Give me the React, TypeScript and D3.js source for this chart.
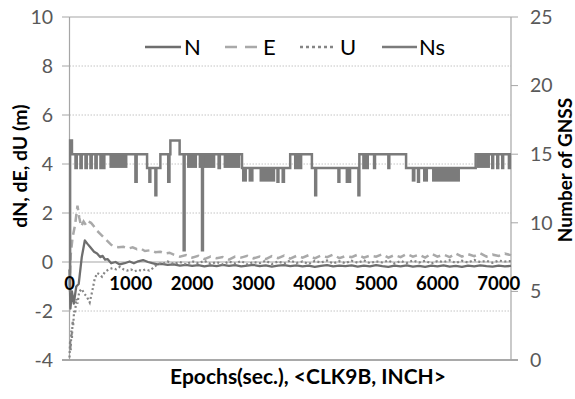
import React from "react";
import * as d3 from "d3";

// ---------- data ----------
const leftTicks = [-4, -2, 0, 2, 4, 6, 8, 10];
const rightTicks = [0, 5, 10, 15, 20, 25];
const xTicks = [0, 1000, 2000, 3000, 4000, 5000, 6000, 7000];
const seriesNames = ["N", "E", "U", "Ns"];

// early (converging) part: [epoch, value]
const nEarly: [number, number][] = [
  [0, -0.3], [15, -1.9], [40, -1.2], [70, -1.7], [110, -1.0], [150, -0.9], [200, 0.2], [250, 0.88],
  [290, 0.75], [340, 0.6], [400, 0.42], [450, 0.35], [500, 0.2], [540, 0.25], [580, 0.1], [620, 0.12],
  [680, -0.05], [750, 0.0], [820, -0.1], [900, -0.05], [980, 0.02], [1050, -0.05], [1120, 0.03],
  [1200, 0.08], [1280, 0.0], [1350, -0.05], [1430, -0.1], [1500, -0.08], [1600, -0.12],
];
const eEarly: [number, number][] = [
  [0, -1.0], [20, 0.3], [50, 1.0], [90, 1.5], [130, 2.3], [160, 1.8], [190, 1.45], [230, 1.65],
  [270, 1.5], [310, 1.65], [350, 1.6], [400, 1.45], [440, 1.3], [500, 1.15], [560, 1.0], [620, 0.85],
  [680, 0.7], [740, 0.62], [800, 0.6], [880, 0.62], [960, 0.55], [1030, 0.6], [1100, 0.52],
  [1160, 0.55], [1230, 0.45], [1320, 0.48], [1400, 0.4], [1480, 0.42], [1560, 0.35], [1630, 0.38],
];
const uEarly: [number, number][] = [
  [0, -3.9], [10, -3.2], [20, -3.6], [30, -2.8], [40, -3.1], [50, -2.4], [60, -2.6], [75, -2.0],
  [90, -2.1], [110, -1.5], [130, -1.7], [160, -1.2], [200, -1.1], [240, -1.3], [280, -1.4],
  [330, -1.65], [370, -1.2], [410, -0.7], [450, -0.45], [490, -0.5], [530, -0.6], [580, -0.4],
  [640, -0.3], [700, -0.25], [760, -0.3], [820, -0.2], [880, -0.3], [940, -0.35], [1000, -0.3],
  [1060, -0.38], [1120, -0.32], [1180, -0.36], [1240, -0.3], [1300, -0.35], [1360, -0.25],
  [1420, -0.12], [1480, -0.05], [1540, -0.05], [1600, 0.02],
];

// steady part, one value every 100 s from 1700 to 7200
const tailStart = 1700;
const tailStep = 100;
const nTail = [
  -0.1, -0.15, -0.12, -0.16, -0.13, -0.18, -0.14, -0.17,
  -0.12, -0.16, -0.13, -0.18, -0.15, -0.12, -0.17, -0.14, -0.19, -0.15,
  -0.13, -0.17, -0.14, -0.18, -0.15, -0.2, -0.16, -0.13, -0.18, -0.15,
  -0.17, -0.14, -0.19, -0.15, -0.18, -0.13, -0.17, -0.2, -0.15, -0.18,
  -0.14, -0.19, -0.16, -0.2, -0.15, -0.18, -0.14, -0.19, -0.16, -0.2,
  -0.15, -0.18, -0.14, -0.17, -0.19, -0.15, -0.18, -0.16,
];
const eTail = [
  0.3, 0.22, 0.28, 0.18, 0.25, 0.12, 0.22, 0.15, 0.2, 0.1,
  0.22, 0.18, 0.25, 0.15, 0.22, 0.12, 0.24, 0.16, 0.26, 0.14,
  0.25, 0.18, 0.28, 0.15, 0.26, 0.2, 0.3, 0.16, 0.24, 0.2,
  0.3, 0.18, 0.26, 0.22, 0.32, 0.18, 0.28, 0.2, 0.33, 0.22,
  0.3, 0.18, 0.34, 0.22, 0.3, 0.2, 0.35, 0.22, 0.32, 0.24,
  0.35, 0.22, 0.3, 0.25, 0.34, 0.28,
];
const uTail = [
  -0.08, 0.0, -0.1, 0.03, -0.05, 0.05, -0.08, 0.0,
  -0.1, 0.02, -0.06, 0.04, -0.1, 0.0, -0.05, 0.05, -0.08, 0.02,
  -0.06, 0.06, -0.04, 0.02, -0.08, 0.04, -0.02, 0.06, -0.06, 0.03,
  -0.05, 0.05, -0.03, 0.07, -0.05, 0.03, -0.02, 0.06, -0.06, 0.04,
  -0.04, 0.06, -0.02, 0.05, -0.06, 0.04, 0.0, 0.07, -0.04, 0.05,
  -0.02, 0.08, 0.0, 0.05, -0.03, 0.06, 0.02, 0.04,
];

// number of satellites: step changes [epoch, count]
const nsSteps: [number, number][] = [
  [0, 5], [10, 16], [40, 15],
  [98, 14], [118, 15], [179, 14], [199, 15], [261, 14], [281, 15], [342, 14], [362, 15],
  [423, 14], [443, 15], [505, 14], [525, 15], [553, 14], [568, 15],
  [1075, 13], [1095, 15], [1265, 14], [1303, 13], [1318, 14], [1401, 12], [1416, 14],
  [1482, 15], [1610, 13], [1630, 15], [1645, 16], [1796, 15], [1862, 8], [1877, 15],
  [2161, 8], [2176, 15], [2432, 14], [2452, 15], [2813, 14],
  [3392, 13], [3407, 14], [3477, 13], [3497, 14], [3599, 15],
  [3681, 14], [3696, 15], [3718, 14], [3733, 15], [3762, 14], [3777, 15],
  [3953, 14], [4007, 12], [4022, 14], [4386, 13], [4401, 14], [4523, 13], [4538, 14],
  [4560, 13], [4575, 14], [4712, 12], [4727, 15],
  [4793, 14], [4808, 15], [4849, 14], [4864, 15], [4967, 14], [4982, 15], [5200, 14], [5215, 15],
  [5489, 14], [5684, 13], [5699, 14], [6624, 15],
  [6894, 14], [6909, 15], [6976, 14], [6991, 15], [7057, 14], [7072, 15], [7166, 14], [7181, 15],
  [7200, 15],
];
// periods of rapid toggling between two counts: [from, to, low, high]
const nsToggleBlocks: [number, number, number, number][] = [
  [651, 945, 14, 15], [1917, 2080, 14, 15], [2106, 2378, 14, 15], [2513, 2785, 14, 15],
  [2813, 2894, 13, 14], [2920, 3002, 13, 14], [3099, 3355, 13, 14],
  [5581, 5643, 13, 14], [5765, 5847, 13, 14], [5912, 6368, 13, 14], [6640, 6857, 14, 15],
];

// ---------- layout ----------
const W = 575, H = 399;
const L = 69.5, R = 511, T = 17, B = 360;
const FONT = "Lato, 'Open Sans', sans-serif";

const x = d3.scaleLinear().domain([0, 7200]).range([L, R]);
const yL = d3.scaleLinear().domain([-4, 10]).range([B, T]);
const yR = d3.scaleLinear().domain([0, 25]).range([B, T]);

const withTail = (early: [number, number][], tail: number[]): [number, number][] =>
  early.concat(tail.map((v, i) => [tailStart + i * tailStep, v] as [number, number]));

const lineL = d3.line<[number, number]>().x((d) => x(d[0])).y((d) => yL(d[1]));
const lineNs = d3
  .line<[number, number]>()
  .x((d) => x(d[0]))
  .y((d) => yR(d[1]))
  .curve(d3.curveStepAfter);

const styles: Record<string, { stroke: string; width: number; dash?: string }> = {
  N: { stroke: "#6e6e6e", width: 2.3 },
  E: { stroke: "#a9a9a9", width: 2.5, dash: "8,5" },
  U: { stroke: "#858585", width: 2.2, dash: "2,2.5" },
  Ns: { stroke: "#7b7b7b", width: 2.5 },
};

export default function App() {
  const nData = withTail(nEarly, nTail);
  const eData = withTail(eEarly, eTail);
  const uData = withTail(uEarly, uTail);

  const legendItems = [
    { name: seriesNames[0], x1: 145, x2: 181, tx: 184, dash: undefined },
    { name: seriesNames[1], x1: 225, x2: 257, tx: 263, dash: "12,8" },
    { name: seriesNames[2], x1: 300, x2: 334, tx: 340, dash: "3,3" },
    { name: seriesNames[3], x1: 382, x2: 417, tx: 419, dash: undefined },
  ];

  return (
    <svg width={W} height={H} style={{ position: "absolute", left: 0, top: 0, background: "#fff" }}>
      {/* gridlines */}
      {leftTicks.filter((t) => t !== -4 && t !== 0 && t !== 10).map((t) => (
        <line key={"g" + t} x1={L} x2={R} y1={yL(t)} y2={yL(t)} stroke="#c4c4c4" strokeWidth={1} strokeDasharray="1.5,1.5" />
      ))}
      <line x1={L} x2={R} y1={yL(10)} y2={yL(10)} stroke="#a6a6a6" strokeWidth={1.2} />
      <line x1={L} x2={R} y1={yL(0)} y2={yL(0)} stroke="#a6a6a6" strokeWidth={1.2} />
      <line x1={62} x2={518} y1={yL(-4)} y2={yL(-4)} stroke="#8c8c8c" strokeWidth={1.5} />

      {/* left axis */}
      <line x1={L} x2={L} y1={T} y2={B} stroke="#a6a6a6" strokeWidth={1.2} />
      {leftTicks.map((t) => (
        <g key={"l" + t}>
          <line x1={62} x2={L} y1={yL(t)} y2={yL(t)} stroke="#a6a6a6" strokeWidth={1} />
          <text x={53} y={yL(t)} dy="0.35em" textAnchor="end" fontFamily={FONT} fontSize={19.5} fill="#595959">
            {t}
          </text>
        </g>
      ))}
      {/* right axis */}
      <line x1={R} x2={R} y1={T} y2={B} stroke="#a6a6a6" strokeWidth={1.2} />
      {rightTicks.map((t) => (
        <g key={"r" + t}>
          <line x1={R} x2={518} y1={yR(t)} y2={yR(t)} stroke="#a6a6a6" strokeWidth={1} />
          <text x={530} y={yR(t)} dy="0.35em" textAnchor="start" fontFamily={FONT} fontSize={19.5} fill="#595959">
            {t}
          </text>
        </g>
      ))}

      {/* series */}
      <path d={lineL(nData) || ""} fill="none" stroke={styles.N.stroke} strokeWidth={styles.N.width} strokeLinejoin="round" />
      <path d={lineL(eData) || ""} fill="none" stroke={styles.E.stroke} strokeWidth={styles.E.width} strokeDasharray={styles.E.dash} />
      <path d={lineL(uData) || ""} fill="none" stroke={styles.U.stroke} strokeWidth={styles.U.width} strokeDasharray={styles.U.dash} />
      {nsToggleBlocks.map(([a, b, lo, hi], i) => (
        <rect key={"b" + i} x={x(a)} width={x(b) - x(a)} y={yR(hi)} height={yR(lo) - yR(hi)} fill={styles.Ns.stroke} />
      ))}
      <path d={lineNs(nsSteps) || ""} fill="none" stroke={styles.Ns.stroke} strokeWidth={styles.Ns.width} />

      {/* x tick labels */}
      {xTicks.map((t) => (
        <text key={"x" + t} x={x(t)} y={284} dy="0.35em" textAnchor="middle" fontFamily={FONT} fontSize={18.5} fontWeight="bold" fill="#000">
          {t}
        </text>
      ))}

      {/* legend */}
      {legendItems.map((it) => {
        const st = styles[it.name];
        return (
          <g key={"lg" + it.name}>
            <line x1={it.x1} x2={it.x2} y1={47} y2={47} stroke={st.stroke} strokeWidth={2.5} strokeDasharray={it.dash} />
            <text x={it.tx} y={47} dy="0.36em" fontFamily={FONT} fontSize={22} fill="#000">
              {it.name}
            </text>
          </g>
        );
      })}

      {/* axis titles */}
      <text transform={`translate(27,166) rotate(-90)`} textAnchor="middle" fontFamily={FONT} fontSize={19.5} fontWeight="bold" fill="#000">
        dN, dE, dU (m)
      </text>
      <text transform={`translate(572,170) rotate(-90)`} textAnchor="middle" fontFamily={FONT} fontSize={19} fontWeight="bold" fill="#000">
        Number of GNSS
      </text>
      <text x={308} y={384} textAnchor="middle" fontFamily={FONT} fontSize={21} fontWeight="bold" fill="#000">
        Epochs(sec.), &lt;CLK9B, INCH&gt;
      </text>
    </svg>
  );
}
